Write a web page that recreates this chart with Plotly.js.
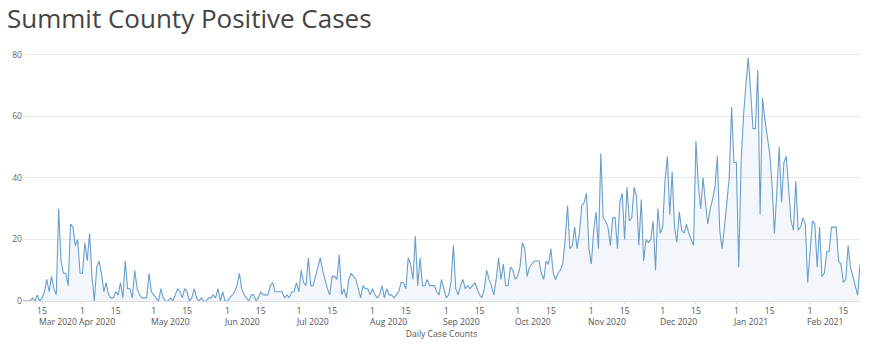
<!DOCTYPE html>
<html>
<head>
<meta charset="utf-8">
<script src="https://cdn.plot.ly/plotly-3.0.1.min.js"></script>
<style>html,body{margin:0;padding:0;background:#fff;}#chart{width:880px;height:349px;}</style>
</head>
<body>
<div id="chart"></div>
<script>
// Daily positive cases, first day 2020-03-07
const startDate = '2020-03-07';
const mar2020 = [0,0,0,0,1,0,2,0,1,3,7,3,8,4,2,30,13,9,9,5,25,24,18,20,9];
const apr2020 = [9,19,13,22,8,0,11,13,9,3,6,2,1,1,3,2,6,1,13,4,4,1,10,4,2,1,1,1,9,3];
const may2020 = [2,1,0,4,1,0,0,1,0,2,4,3,1,4,3,0,1,4,1,0,1,0,0,1,1,2,1,4,0,3,0];
const jun2020 = [0,1,2,3,5,9,4,2,1,0,2,2,0,1,3,2,2,2,5,6,3,3,3,3,1,2,1,3,3,6];
const jul2020 = [3,10,6,5,14,5,5,8,11,14,10,7,4,2,8,8,7,15,2,4,1,7,9,8,7,4,1,5,4,4,2];
const aug2020 = [4,2,1,2,5,1,4,2,2,1,2,3,6,6,4,14,12,7,21,5,14,5,5,7,5,5,5,3,2,7,4];
const sep2020 = [1,2,6,18,4,2,5,7,4,5,4,5,6,4,2,1,4,10,7,5,2,7,14,7,12,5,5,11,10,7];
const oct2020 = [8,11,19,17,8,11,12,13,13,13,9,7,13,12,17,9,7,9,10,12,20,31,17,18,24,17,22,31,32,35,17];
const nov2020 = [12,23,29,17,48,27,26,24,18,27,27,17,32,35,20,37,26,27,37,34,18,33,13,20,19,20,26,10,30,22];
const dec2020 = [24,39,47,28,42,24,19,29,23,22,25,22,20,18,52,38,30,40,32,25,30,33,37,47,23,17,24,31,40,63,45];
const jan2021 = [45,11,45,60,70,79,68,56,56,75,28,66,59,54,48,38,22,35,50,32,45,47,37,26,23,39,23,24,27,25,6];
const feb2021 = [16,26,25,11,24,8,9,16,16,24,24,24,13,12,6,7,18,11,8,5,2,12];

const titleText = 'Summit County Positive Cases';
const xTitle = 'Daily Case Counts';
const monthNames = ['Jan','Feb','Mar','Apr','May','Jun','Jul','Aug','Sep','Oct','Nov','Dec'];

const values = [].concat(mar2020, apr2020, may2020, jun2020, jul2020, aug2020,
  sep2020, oct2020, nov2020, dec2020, jan2021, feb2021);
const dates = [];
const d0 = new Date(startDate + 'T00:00:00Z');
for (let k = 0; k < values.length; k++) {
  const d = new Date(d0.getTime() + k * 86400000);
  dates.push(d.toISOString().slice(0, 10));
}

const smallFont = 8.6;

// ticks on the 1st and 15th of each month; month/year label when it changes
const tickVals = [], tickText = [], annotations = [];
let prevHead = '';
for (let k = 0; k < dates.length; k++) {
  const day = dates[k].slice(8, 10);
  if (day === '01' || day === '15') {
    const head = monthNames[+dates[k].slice(5, 7) - 1] + ' ' + dates[k].slice(0, 4);
    tickVals.push(dates[k]);
    tickText.push(String(+day));
    if (head !== prevHead) {
      prevHead = head;
      annotations.push({x: dates[k], xref: 'x', y: 0, yref: 'paper',
        xanchor: 'left', yanchor: 'top', xshift: -3, yshift: -15,
        borderpad: 0, borderwidth: 0,
        text: head, showarrow: false, font: {size: smallFont, color: '#555'}});
    }
  }
}

const trace = {
  x: dates, y: values, type: 'scatter', mode: 'lines',
  line: {color: '#6a9fcd', width: 1.1},
  fill: 'tozeroy', fillcolor: 'rgba(106,159,205,0.08)',
  hoverinfo: 'x+y'
};

const layout = {
  width: 880, height: 349,
  margin: {l: 23, r: 20, t: 45, b: 48},
  paper_bgcolor: '#fff', plot_bgcolor: '#fff',
  font: {family: '"Open Sans", verdana, arial, sans-serif', color: '#444', size: smallFont},
  title: {text: titleText, x: 0.008, xanchor: 'left', xref: 'container',
          y: 0.945, yanchor: 'middle', yref: 'container',
          font: {size: 26, color: '#444'}},
  showlegend: false,
  annotations: annotations,
  xaxis: {type: 'date', tickmode: 'array', tickvals: tickVals, ticktext: tickText,
          tickangle: 0,
          showgrid: false, ticks: 'outside', ticklen: 2, tickcolor: '#ddd',
          showline: false, zeroline: false,
          tickfont: {size: smallFont, color: '#555'},
          title: {text: xTitle, font: {size: smallFont, color: '#555'}, standoff: 14},
          automargin: false},
  yaxis: {showgrid: true, gridcolor: '#e8e8e8', zeroline: true, zerolinecolor: '#e0e0e0',
          zerolinewidth: 1, ticks: '', tickfont: {size: smallFont, color: '#666'},
          rangemode: 'tozero', automargin: false, dtick: 20}
};

Plotly.newPlot('chart', [trace], layout, {displayModeBar: false, staticPlot: true});
</script>
</body>
</html>
